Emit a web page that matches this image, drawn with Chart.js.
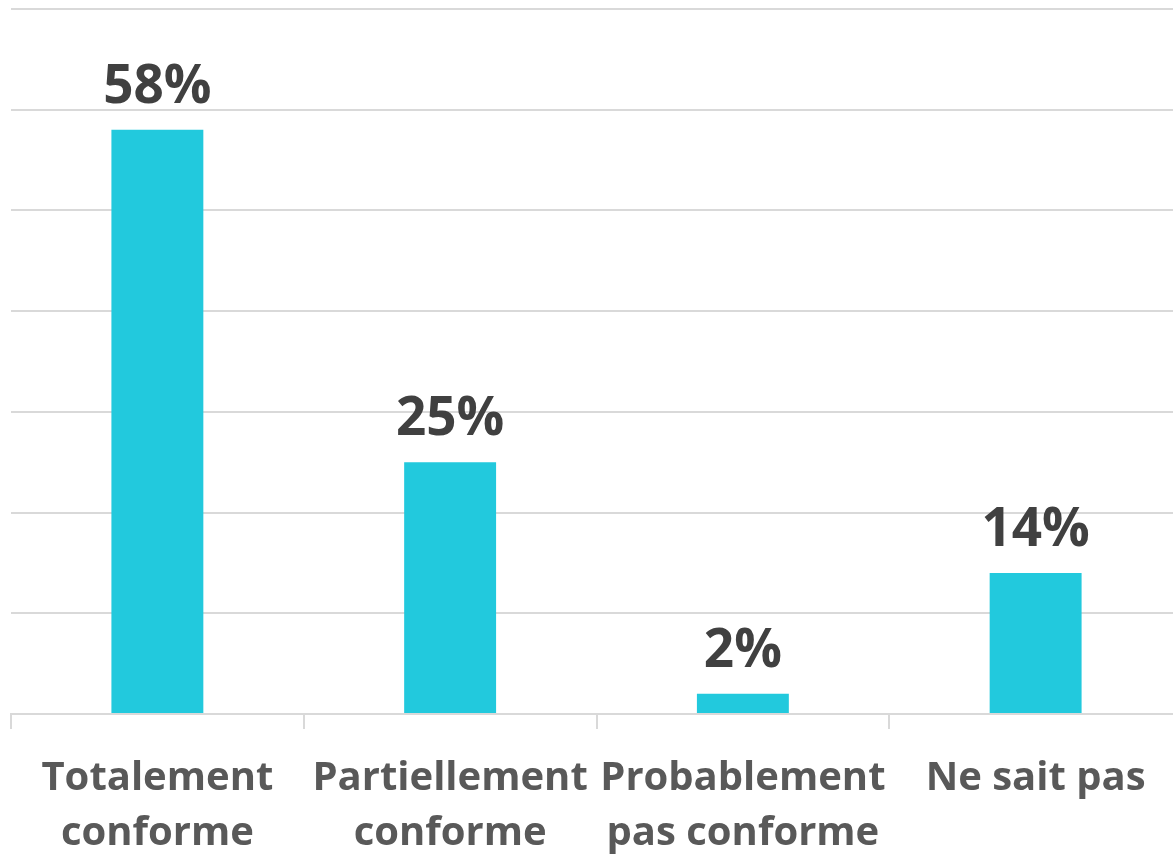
<!DOCTYPE html>
<html>
<head>
<meta charset="utf-8">
<script src="https://cdn.jsdelivr.net/npm/chart.js@4.4.0/dist/chart.umd.min.js"></script>
<style>
  html, body { margin: 0; padding: 0; background: #fff; overflow: hidden; }
</style>
</head>
<body>
<canvas id="conformiteChart" width="1182" height="856"></canvas>
<script>
const categories = [
    ['Totalement', 'conforme'],
    ['Partiellement', 'conforme'],
    ['Probablement', 'pas conforme'],
    ['Ne sait pas']
];
const percentages = [58, 25, 2, 14];
const valueLabels = ['58%', '25%', '2%', '14%'];

// draws the "58%" style labels above each bar
const barValueLabels = {
    id: 'barValueLabels',
    afterDatasetsDraw(chart) {
        const ctx = chart.ctx;
        const meta = chart.getDatasetMeta(0);
        ctx.save();
        ctx.font = 'bold 53px "Open Sans"';
        ctx.fillStyle = '#404040';
        ctx.textAlign = 'center';
        ctx.textBaseline = 'alphabetic';
        meta.data.forEach(function (bar, i) {
            ctx.fillText(valueLabels[i], bar.x, bar.y - 27);
        });
        ctx.restore();
    }
};

document.addEventListener('DOMContentLoaded', function () {
    const ctx = document.getElementById('conformiteChart').getContext('2d');
    const chart = new Chart(ctx, {
        type: 'bar',
        data: {
            labels: categories,
            datasets: [{
                data: percentages,
                backgroundColor: '#22c9dd',
                barPercentage: 0.314,
                categoryPercentage: 1
            }]
        },
        options: {
            responsive: false,
            animation: false,
            layout: { padding: { left: 11, top: 9, right: 0, bottom: 0 } },
            plugins: {
                legend: { display: false },
                tooltip: { enabled: false }
            },
            scales: {
                x: {
                    grid: {
                        offset: true,
                        drawOnChartArea: false,
                        tickLength: 15,
                        color: '#d9d9d9',
                        lineWidth: 2
                    },
                    border: { color: '#d9d9d9', width: 2 },
                    ticks: {
                        color: '#595959',
                        font: { family: '"Open Sans"', size: 40, weight: 'bold', lineHeight: 1.38 },
                        maxRotation: 0,
                        autoSkip: false,
                        padding: 22
                    },
                    afterFit: function (axis) { axis.height = 142; }
                },
                y: {
                    min: 0,
                    max: 70,
                    ticks: { stepSize: 10, display: false },
                    grid: { color: '#d9d9d9', lineWidth: 2, drawTicks: false },
                    border: { display: false },
                    afterFit: function (axis) { axis.width = 0; }
                }
            }
        },
        plugins: [barValueLabels]
    });
});
</script>
</body>
</html>
